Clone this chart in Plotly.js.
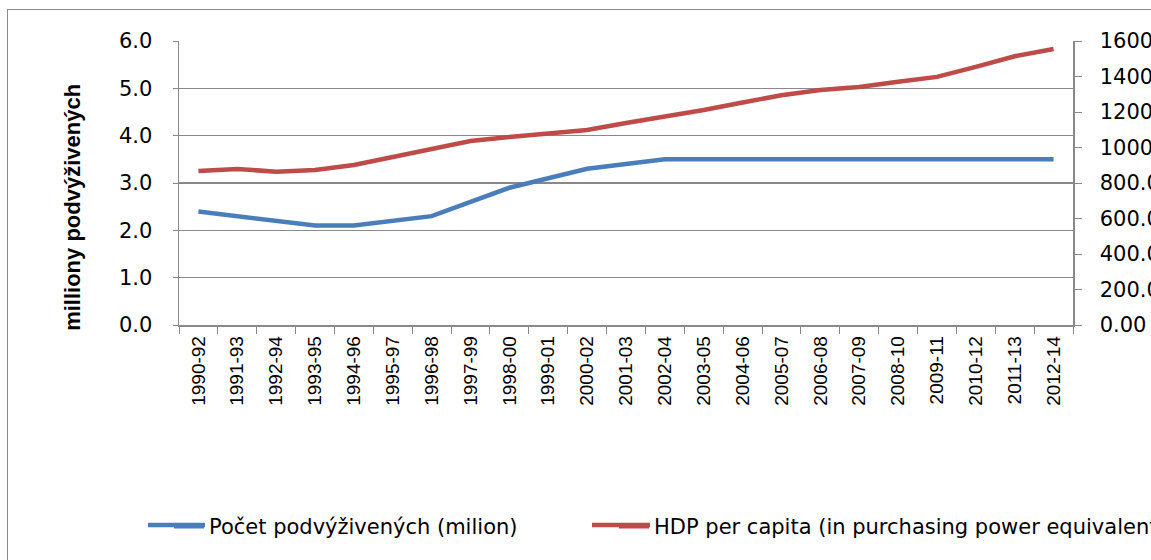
<!DOCTYPE html>
<html>
<head>
<meta charset="utf-8">
<script src="https://cdn.plot.ly/plotly-3.0.1.min.js"></script>
<style>
html,body{margin:0;padding:0;background:#fff;overflow:hidden;width:1151px;height:560px;}
#frame{position:absolute;left:7px;top:9px;width:1200px;height:600px;border:1px solid #898989;box-sizing:border-box;}
#chart{position:absolute;left:0;top:0;width:1300px;height:560px;}
</style>
</head>
<body>
<div id="frame"></div>
<div id="chart"></div>
<script>
var categories = ["1990-92","1991-93","1992-94","1993-95","1994-96","1995-97","1996-98","1997-99","1998-00","1999-01","2000-02","2001-03","2002-04","2003-05","2004-06","2005-07","2006-08","2007-09","2008-10","2009-11","2010-12","2011-13","2012-14"];
var undernourished = [2.4,2.3,2.2,2.1,2.1,2.2,2.3,2.6,2.9,3.1,3.3,3.4,3.5,3.5,3.5,3.5,3.5,3.5,3.5,3.5,3.5,3.5,3.5];
var gdpPerCapita = [867,879,864,873,901,946,995,1037,1059,1082,1099,1138,1172,1211,1254,1294,1324,1341,1371,1398,1454,1514,1555];
var nameA = "Počet podvýživených (milion)";
var nameB = "HDP per capita (in purchasing power equivalent)";
var colorA = "#4A7EBB", colorB = "#BE4B48";

var wide = "DejaVu Sans, Liberation Sans, sans-serif";
var font = "Liberation Sans, Arial, sans-serif";
var W = 1300, plotRight = 1073, plotLeft = 179;
var pw = plotRight - plotLeft;
var traces = [
  {x: categories, y: undernourished, name: nameA, type: "scatter", mode: "lines",
   line: {color: colorA, width: 4.5}, yaxis: "y", legend: "legend"},
  {x: categories, y: gdpPerCapita, name: nameB, type: "scatter", mode: "lines",
   line: {color: colorB, width: 4.5}, yaxis: "y2", legend: "legend2"}
];
var legY = -0.71;
var legFont = {family: wide, size: 21};
var layout = {
  width: W, height: 560,
  margin: {l: plotLeft, r: W - plotRight, t: 41, b: 235},
  paper_bgcolor: "rgba(0,0,0,0)", plot_bgcolor: "rgba(0,0,0,0)",
  font: {family: font, size: 19, color: "#000"},
  showlegend: true,
  legend: {orientation: "h", x: (169 - plotLeft) / pw, y: legY, xanchor: "left", yanchor: "middle",
    font: legFont, bgcolor: "rgba(0,0,0,0)"},
  legend2: {orientation: "h", x: (614 - plotLeft) / pw, y: legY, xanchor: "left", yanchor: "middle",
    font: legFont, bgcolor: "rgba(0,0,0,0)"},
  xaxis: {type: "category", tickangle: -90, ticks: "outside", tickson: "boundaries", ticklen: 7,
    tickcolor: "#898989", showline: true, linecolor: "#898989", linewidth: 1.5, showgrid: false,
    range: [-0.5, 22.5], tickfont: {family: font, size: 19}, ticklabelstandoff: 2, automargin: false},
  yaxis: {range: [0, 6], dtick: 1, tickformat: ".1f", ticks: "outside", ticklen: 5, tickcolor: "#898989",
    showline: true, linecolor: "#898989", linewidth: 1.5, showgrid: true, gridcolor: "#898989", gridwidth: 1.5,
    zeroline: false, tickfont: {family: wide, size: 21}, ticklabelstandoff: 16, automargin: false},
  yaxis2: {range: [0, 1600], dtick: 200, tickformat: ".2f", overlaying: "y", side: "right", ticks: "outside",
    ticklen: 7, tickcolor: "#898989", showline: true, linecolor: "#898989", linewidth: 1.5, showgrid: false,
    zeroline: false, tickfont: {family: wide, size: 21}, ticklabelstandoff: 14, automargin: false},
  shapes: [
    {type: "line", xref: "paper", yref: "paper", x0: (148 - plotLeft) / pw, x1: (205 - plotLeft) / pw,
     y0: legY + 0.0062, y1: legY + 0.0062, line: {color: colorA, width: 4.5}},
    {type: "line", xref: "paper", yref: "paper", x0: (592 - plotLeft) / pw, x1: (650 - plotLeft) / pw,
     y0: legY + 0.0062, y1: legY + 0.0062, line: {color: colorB, width: 4.5}}
  ],
  annotations: [{text: "<b>milliony podvýživených</b>", xref: "paper", yref: "paper", x: -0.12, y: 0.415,
    textangle: -90, showarrow: false, xanchor: "center", yanchor: "middle", font: {family: font, size: 22}}]
};
Plotly.newPlot("chart", traces, layout, {displayModeBar: false, staticPlot: true});
</script>
</body>
</html>
